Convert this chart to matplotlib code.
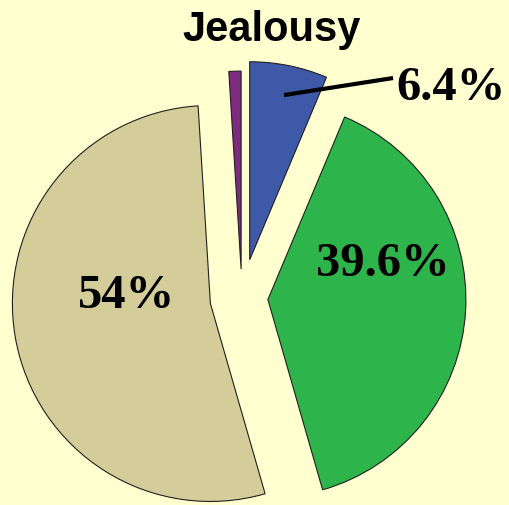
import numpy as np
import matplotlib
matplotlib.use("Agg")
import matplotlib.pyplot as plt

# slices, clockwise from 12 o'clock
names = ["blue", "green", "tan", "purple"]
values = [6.4, 39.6, 54.0, 1.0]
labels = ["6.4%", "39.6%", "54%", ""]
colors = ["#3F59A9", "#2DB54B", "#D4CD9A", "#7D2A80"]
explode = [0.197, 0.131, 0.162, 0.146]

bg = "#FFFFCF"

fig = plt.figure(figsize=(5.10, 5.05), dpi=100, facecolor=bg)
ax = fig.add_axes([0, 0, 1, 1])
ax.set_facecolor(bg)

wedges, _ = ax.pie(values, colors=colors, explode=explode, startangle=90,
                   counterclock=False, radius=1.0,
                   wedgeprops=dict(edgecolor="#202020", linewidth=0.8))

# pixel-based layout: centre (242, 298), radius 198 px
ax.set_aspect("auto")
ax.set_xlim(-242 / 198, (510 - 242) / 198)
ax.set_ylim(-(505 - 298) / 198, 298 / 198)
ax.axis("off")

lab_font = dict(family="Liberation Serif", fontweight="bold", fontsize=35,
                ha="center", va="center", color="black")
ax.text(1.056, 1.06, labels[0], **lab_font)
ax.text(0.712, 0.17, labels[1], **lab_font)
ax.text(-0.581, 0.01, labels[2], **lab_font)
ax.plot([0.212, 0.763], [1.025, 1.111], color="black", lw=3, solid_capstyle="butt")

fig.text(272 / 510, 1 - 30 / 505, "Jealousy", family="Liberation Sans",
         fontweight="bold", fontsize=30, ha="center", va="center")

fig.savefig("out.png", dpi=100, facecolor=bg)
